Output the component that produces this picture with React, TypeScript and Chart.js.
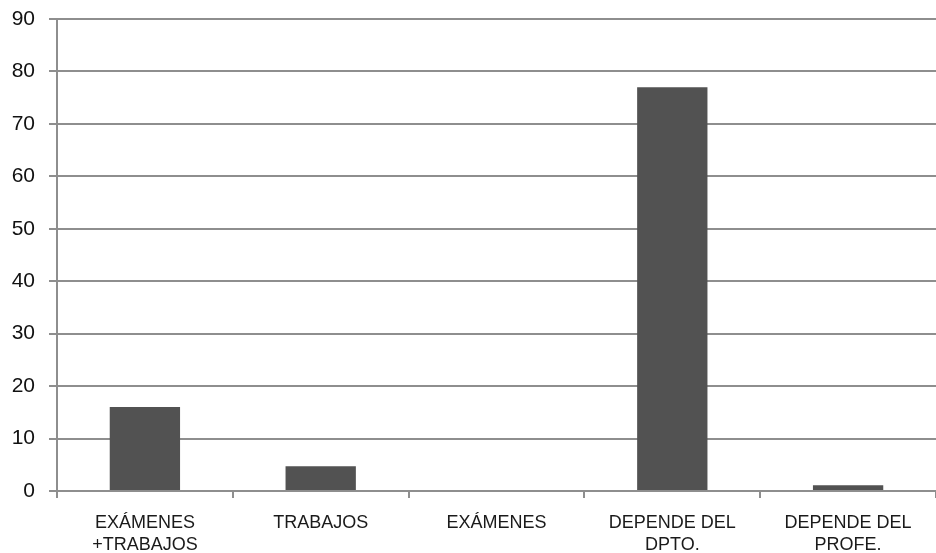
import React, { useEffect, useRef } from "react";
import { Chart, registerables } from "chart.js";

Chart.register(...registerables);

const categories: string[][] = [
  ["EXÁMENES", "+TRABAJOS"],
  ["TRABAJOS"],
  ["EXÁMENES"],
  ["DEPENDE DEL", "DPTO."],
  ["DEPENDE DEL", "PROFE."],
];
const values: number[] = [16, 4.7, 0, 77, 1.1];
const yTicks: number[] = [0, 10, 20, 30, 40, 50, 60, 70, 80, 90];

export default function App() {
  const ref = useRef<HTMLCanvasElement>(null);
  useEffect(() => {
    document.body.style.margin = "0";
    const ctx = ref.current!;
    const chart = new Chart(ctx, {
      type: "bar",
      data: {
        labels: categories,
        datasets: [
          {
            data: values,
            backgroundColor: "#525252",
            borderWidth: 0,
            barPercentage: 0.4,
            categoryPercentage: 1,
          },
        ],
      },
      options: {
        animation: false,
        responsive: false,
        maintainAspectRatio: false,
        layout: { padding: { top: 19, right: 0, left: 0, bottom: 0 } },
        plugins: { legend: { display: false }, tooltip: { enabled: false } },
        scales: {
          x: {
            offset: true,
            grid: {
              offset: true,
              drawOnChartArea: false,
              drawTicks: true,
              tickLength: 7,
              color: "#8e8e8e",
              lineWidth: 2,
            },
            border: { color: "#8e8e8e", width: 2 },
            ticks: {
              color: "#1a1a1a",
              font: { family: "'Liberation Sans', Arial, sans-serif", size: 18, lineHeight: 1.22 },
              padding: 14,
              maxRotation: 0,
              autoSkip: false,
            },
            afterFit: (s: any) => {
              s.height = 62;
              s.paddingLeft = 0;
              s.paddingRight = 0;
            },
          },
          y: {
            min: 0,
            max: 90,
            afterBuildTicks: (s: any) => {
              s.ticks = yTicks.map((v) => ({ value: v }));
            },
            grid: {
              color: "#8e8e8e",
              lineWidth: 2,
              tickLength: 8,
            },
            border: { color: "#8e8e8e", width: 2 },
            ticks: {
              color: "#111",
              font: { family: "'Liberation Sans', Arial, sans-serif", size: 21 },
              padding: 14,
            },
            afterFit: (s: any) => {
              s.width = 57;
              s.paddingTop = 0;
              s.paddingBottom = 0;
            },
          },
        },
      },
    });
    return () => chart.destroy();
  }, []);
  return <canvas ref={ref} width={936} height={553} style={{ display: "block" }} />;
}
